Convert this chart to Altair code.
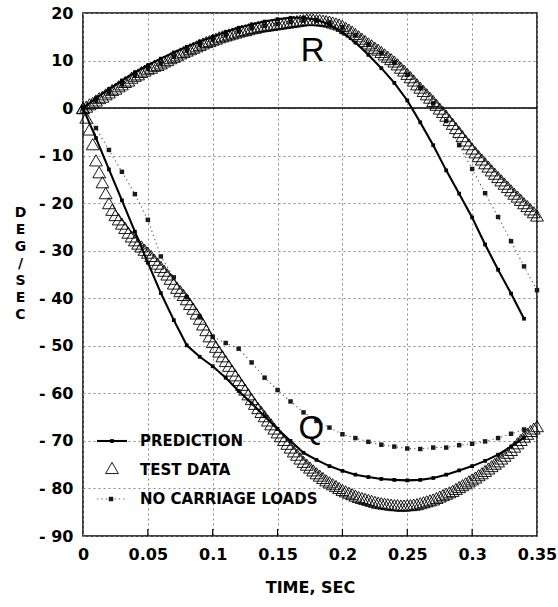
import altair as alt
import pandas as pd

# Sampling intervals (s): recorded test data and computed curves
TEST_DT = 0.0025
CALC_DT = 0.01

# Test data, curve R (deg/s), one value every TEST_DT from t = 0
r_test = [
    0.0, 0.3, 0.8, 1.1, 1.6, 2.1, 2.4, 2.9, 3.3, 3.8, 4.1, 4.6, 5.0, 5.5, 5.8, 6.4,
    6.8, 7.1, 7.6, 7.9, 8.3, 8.5, 8.9, 9.1, 9.4, 9.8, 10.1, 10.5, 10.8, 11.1, 11.5, 11.8,
    12.1, 12.4, 12.7, 13.0, 13.3, 13.6, 13.9, 14.1, 14.4, 14.6, 14.9, 15.1, 15.3, 15.5, 15.7, 15.9,
    16.1, 16.3, 16.4, 16.6, 16.8, 16.9, 17.1, 17.2, 17.3, 17.4, 17.5, 17.6, 17.7, 17.8, 17.9, 18.0,
    18.1, 18.2, 18.3, 18.4, 18.5, 18.6, 18.6, 18.6, 18.5, 18.5, 18.4, 18.3, 18.2, 18.0, 17.8, 17.6,
    17.3, 16.9, 16.5, 16.1, 15.6, 15.1, 14.6, 14.1, 13.6, 13.2, 12.7, 12.3, 11.8, 11.3, 10.8, 10.3,
    9.8, 9.2, 8.5, 7.9, 7.2, 6.5, 5.8, 5.0, 4.3, 3.6, 2.9, 2.2, 1.5, 0.7, -0.1, -0.8,
    -1.6, -2.5, -3.3, -4.2, -5.0, -5.9, -6.8, -7.6, -8.5, -9.3, -10.1, -10.8, -11.6, -12.3, -13.1, -13.8,
    -14.5, -15.2, -15.9, -16.6, -17.3, -18.0, -18.6, -19.3, -20.0, -20.6, -21.3, -21.9, -22.6,
]

# Test data, curve Q (deg/s), one value every TEST_DT from t = 0
q_test = [
    0.0, -2.0, -4.5, -7.6, -11.0, -13.5, -15.6, -17.9, -20.0, -21.4, -22.5, -23.4, -24.3, -25.2, -26.2, -27.0,
    -27.8, -28.5, -29.1, -29.8, -30.4, -31.1, -31.9, -32.7, -33.4, -34.2, -35.0, -35.9, -36.9, -37.8, -38.5, -39.3,
    -40.2, -41.2, -42.2, -43.2, -44.3, -45.5, -46.7, -48.0, -49.2, -50.2, -51.2, -52.2, -53.2, -54.2, -55.2, -56.2,
    -57.2, -58.2, -59.2, -60.2, -61.2, -62.2, -63.1, -63.9, -64.8, -65.7, -66.5, -67.4, -68.2, -69.0, -69.8, -70.6,
    -71.4, -72.2, -72.9, -73.7, -74.4, -75.0, -75.6, -76.2, -76.8, -77.3, -77.8, -78.3, -78.7, -79.1, -79.5, -79.9,
    -80.3, -80.6, -80.9, -81.2, -81.5, -81.8, -82.0, -82.2, -82.4, -82.6, -82.8, -83.0, -83.1, -83.2, -83.3, -83.4,
    -83.5, -83.5, -83.6, -83.6, -83.5, -83.5, -83.4, -83.3, -83.1, -82.9, -82.7, -82.5, -82.3, -82.0, -81.7, -81.4,
    -81.1, -80.8, -80.5, -80.1, -79.7, -79.3, -78.9, -78.5, -78.1, -77.7, -77.2, -76.8, -76.3, -75.8, -75.3, -74.8,
    -74.3, -73.7, -73.1, -72.5, -71.9, -71.2, -70.5, -69.8, -69.1, -68.5, -67.9, -67.4, -66.9,
]

# Prediction, one value every CALC_DT from t = 0
r_pred = [
    0.0, 2.1, 4.0, 5.8, 7.5, 9.0, 10.4, 11.7, 12.9, 14.0, 15.0, 16.0, 16.9, 17.6, 18.2, 18.7,
    19.0, 19.0, 18.6, 17.6, 15.9, 13.8, 11.2, 8.4, 5.3, 1.6, -3.0, -7.8, -13.1, -18.0, -23.0, -28.7,
    -34.0, -39.0, -44.3,
]
q_pred = [
    0.0, -6.3, -12.9, -19.4, -26.0, -32.5, -38.9, -44.6, -49.9, -52.3, -54.3, -56.7, -59.5, -62.1, -64.8, -67.5,
    -70.0, -72.5, -74.0, -75.3, -76.3, -77.1, -77.6, -78.0, -78.2, -78.3, -78.2, -77.8, -77.1, -76.2, -75.3, -74.2,
    -72.9, -71.2, -69.3,
]

# Prediction without carriage loads, one value every CALC_DT from t = 0
r_noload = [
    0.0, 1.6, 3.3, 5.0, 6.8, 8.3, 9.4, 10.8, 12.1, 13.3, 14.4, 15.3, 16.1, 16.8, 17.3, 17.7,
    18.1, 18.4, 18.4, 18.0, 17.0, 15.3, 13.4, 11.6, 9.6, 7.0, 4.2, 1.0, -2.7, -7.8, -12.8, -17.9,
    -22.9, -28.0, -33.3, -38.3,
]
q_noload = [
    0.0, -4.2, -8.8, -13.4, -18.1, -23.5, -31.2, -35.6, -39.8, -43.9, -48.1, -49.4, -50.6, -53.5, -56.7, -59.3,
    -61.7, -64.0, -65.8, -67.2, -68.6, -69.4, -70.2, -70.8, -71.2, -71.6, -71.7, -71.4, -71.4, -70.9, -70.6, -70.1,
    -69.4, -68.5, -67.6,
]

legend_labels = ["PREDICTION", "TEST DATA", "NO CARRIAGE LOADS"]
curve_names = ["R", "Q"]
curve_name_t = [0.177, 0.176]
curve_name_v = [12.0, -67.5]
x_ticks = [0, 0.05, 0.1, 0.15, 0.2, 0.25, 0.3, 0.35]
y_ticks = [20, 10, 0, -10, -20, -30, -40, -50, -60, -70, -80, -90]

PLOT_W, PLOT_H = 454, 523
BOLD = "DejaVu Sans"


def series(values, dt, curve):
    return pd.DataFrame({
        "t": [round(i * dt, 4) for i in range(len(values))],
        "v": values,
        "curve": curve,
    })


test_df = pd.concat([series(r_test, TEST_DT, "R"), series(q_test, TEST_DT, "Q")])
pred_df = pd.concat([series(r_pred, CALC_DT, "R"), series(q_pred, CALC_DT, "Q")])
noload_df = pd.concat([series(r_noload, CALC_DT, "R"), series(q_noload, CALC_DT, "Q")])
names_df = pd.DataFrame({"t": curve_name_t, "v": curve_name_v, "name": curve_names})

x_scale = alt.Scale(domain=[0, 0.35], nice=False, zero=False)
y_scale = alt.Scale(domain=[-90, 20], nice=False, zero=False)

x_axis = alt.Axis(
    values=x_ticks, format=".2~f", title="TIME, SEC",
    grid=True, gridDash=[2, 3], gridColor="#8a8a8a", gridWidth=1,
    ticks=False, tickSize=0, domain=False,
    labelFont=BOLD, labelFontWeight="bold", labelFontSize=16, labelColor="black",
    labelPadding=10, labelFlush=False, labelOverlap=False, labelBound=False,
    titleFont=BOLD, titleFontWeight="bold", titleFontSize=16, titleColor="black",
    titleX=PLOT_W / 2, titleY=51, titleBaseline="middle", titleAlign="center",
)
# Vertical axis title: one upright letter per line
y_axis = alt.Axis(
    values=y_ticks, title=list("DEG/SEC"),
    labelExpr="datum.value < 0 ? '- ' + abs(datum.value) : '' + datum.value",
    grid=True, gridDash=[2, 3], gridColor="#8a8a8a", gridWidth=1,
    ticks=False, tickSize=0, domain=False,
    labelFont=BOLD, labelFontWeight="bold", labelFontSize=16, labelColor="black",
    labelPadding=10, labelOverlap=False, labelBound=False, labelBaseline="middle",
    titleFont=BOLD, titleFontWeight="bold", titleFontSize=14, titleColor="black",
    titleAngle=0, titleX=-63, titleY=199, titleBaseline="middle", titleAlign="center",
    titleLineHeight=17,
)

X = alt.X("t:Q", scale=x_scale, axis=x_axis)
Y = alt.Y("v:Q", scale=y_scale, axis=y_axis)

base = alt.Chart(pd.DataFrame({"t": [0.0], "v": [0.0]})).mark_rule(
    color="black", strokeWidth=1.5
).encode(x=alt.value(0), x2=alt.value(PLOT_W), y=Y)

# Inward tick marks on the time axis
ticks = alt.Chart(pd.DataFrame({"t": x_ticks[1:-1]})).mark_rule(
    color="black", strokeWidth=1.2
).encode(x=X, y=alt.value(PLOT_H - 7), y2=alt.value(PLOT_H))

noload_line = alt.Chart(noload_df).mark_line(
    color="#555555", strokeWidth=1.1, strokeDash=[1.2, 3.2]
).encode(x=X, y=Y, detail="curve:N")
noload_pts = alt.Chart(noload_df).mark_square(
    color="#1a1a1a", size=20, opacity=1
).encode(x=X, y=Y)

pred_line = alt.Chart(pred_df).mark_line(
    color="black", strokeWidth=2.1
).encode(x=X, y=Y, detail="curve:N")
pred_pts = alt.Chart(pred_df).mark_square(
    color="black", size=14, opacity=1
).encode(x=X, y=Y)

test_pts = alt.Chart(test_df).mark_point(
    shape="triangle-up", size=165, filled=False, color="black",
    strokeWidth=0.9, opacity=1
).encode(x=X, y=Y)

names = alt.Chart(names_df).mark_text(
    font="Liberation Sans", fontSize=33, color="black",
    align="center", baseline="middle"
).encode(x=X, y=Y, text="name:N")

# Legend drawn inside the lower-left corner of the plot
LEG_X0, LEG_X1, LEG_MID, LEG_TEXT = 14, 44, 29, 57
LEG_ROWS = [428, 457, 486]


def one_row(i):
    return alt.Chart(pd.DataFrame({"label": [legend_labels[i]]}))


leg_pred_line = one_row(0).mark_rule(color="black", strokeWidth=2.1).encode(
    x=alt.value(LEG_X0), x2=alt.value(LEG_X1), y=alt.value(LEG_ROWS[0]))
leg_pred_pt = one_row(0).mark_square(color="black", size=14, opacity=1).encode(
    x=alt.value(LEG_MID), y=alt.value(LEG_ROWS[0]))
leg_test_pt = one_row(1).mark_point(
    shape="triangle-up", size=165, filled=False, color="black", strokeWidth=0.9, opacity=1
).encode(x=alt.value(LEG_MID), y=alt.value(LEG_ROWS[1] - 2))
leg_noload_line = one_row(2).mark_rule(
    color="#555555", strokeWidth=1.1, strokeDash=[1.2, 3.2]
).encode(x=alt.value(LEG_X0), x2=alt.value(LEG_X1), y=alt.value(LEG_ROWS[2]))
leg_noload_pt = one_row(2).mark_square(color="#1a1a1a", size=20, opacity=1).encode(
    x=alt.value(LEG_MID - 1), y=alt.value(LEG_ROWS[2]))

leg_texts = [
    one_row(i).mark_text(
        font=BOLD, fontWeight="bold", fontSize=15, color="black",
        align="left", baseline="middle"
    ).encode(x=alt.value(LEG_TEXT), y=alt.value(LEG_ROWS[i]), text="label:N")
    for i in range(3)
]

chart = alt.layer(
    base, ticks, noload_line, noload_pts, pred_line, pred_pts, test_pts, names,
    leg_pred_line, leg_pred_pt, leg_test_pt, leg_noload_line, leg_noload_pt,
    *leg_texts,
).properties(
    width=PLOT_W, height=PLOT_H,
    autosize=alt.AutoSizeParams(type="none"),
    padding={"left": 83, "top": 13, "right": 558 - 83 - PLOT_W, "bottom": 607 - 13 - PLOT_H},
    background="white",
).configure_view(
    stroke="black", strokeWidth=1.5
)

chart.save("out.html", embed_options={"renderer": "svg", "actions": False})
